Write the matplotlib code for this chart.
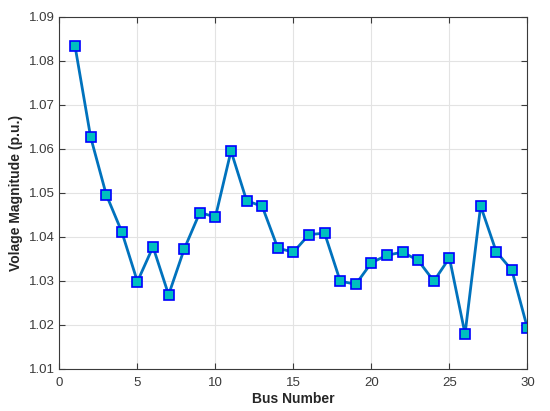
import matplotlib
matplotlib.use("Agg")
import matplotlib.pyplot as plt

plt.rcParams['font.family'] = ['Liberation Sans', 'DejaVu Sans']

bus = list(range(1, 31))
voltage = [1.0834, 1.0627, 1.0496, 1.0411, 1.0298, 1.0377, 1.0268, 1.0372, 1.0455, 1.0445,
           1.0595, 1.0482, 1.0469, 1.0374, 1.0365, 1.0405, 1.0408, 1.0299, 1.0292, 1.0341,
           1.0358, 1.0365, 1.0346, 1.0299, 1.0352, 1.0179, 1.0470, 1.0366, 1.0324, 1.0192]

xticks = [0, 5, 10, 15, 20, 25, 30]
yticks = [1.01, 1.02, 1.03, 1.04, 1.05, 1.06, 1.07, 1.08, 1.09]

fig = plt.figure(figsize=(5.5, 4.11), dpi=100)
ax = fig.add_axes([0.108, 0.103, 0.851, 0.856])

ax.plot(bus, voltage, color='#0072BD', linewidth=2, marker='s', markersize=7,
        markerfacecolor='#00BFBF', markeredgecolor='#0000FF', markeredgewidth=1.2)

ax.set_xlim(0, 30)
ax.set_ylim(1.01, 1.09)
ax.set_xticks(xticks)
ax.set_yticks(yticks)
ax.set_yticklabels([f'{v:.2f}' for v in yticks])
ax.grid(True, color='#e3e3e3', linewidth=0.8)
ax.tick_params(direction='in', top=True, right=True, labelsize=9.5, colors='#3a3a3a', length=4)
ax.tick_params(axis='x', pad=6)
for s in ax.spines.values():
    s.set_color('#3a3a3a')
    s.set_linewidth(0.8)

ax.set_xlabel('Bus Number', fontsize=10, fontweight='bold', color='#262626', labelpad=2)
ax.set_ylabel('Volage Magnitude (p.u.)', fontsize=10, fontweight='bold', color='#262626')

fig.savefig('out.png', dpi=100)
